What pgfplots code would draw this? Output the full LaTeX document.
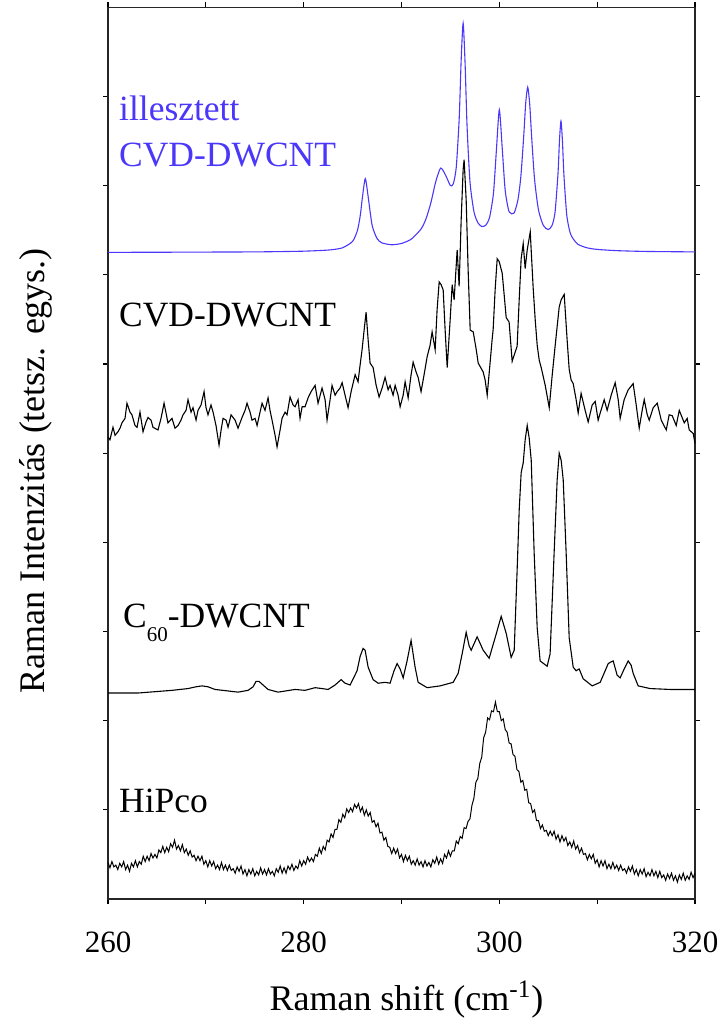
\documentclass[border=0pt]{standalone}
\usepackage{fontspec}
\setmainfont{Liberation Serif}
\usepackage{pgfplots}
\pgfplotsset{compat=1.18}
\definecolor{fitblue}{RGB}{75,55,250}
\begin{document}
\begin{tikzpicture}
\begin{axis}[
  scale only axis, width=293.5bp, height=445.85bp,
  xmin=260, xmax=320, ymin=0, ymax=10,
  xtick={260,280,300,320}, minor xtick={270,290,310},
  ytick={1,2,3,4,5,6,7,8,9}, yticklabels={},
  tick align=outside,
  major tick length=2.5bp, minor tick length=2.5bp,
  every tick/.style={black, line width=0.6bp},
  axis line style={line width=0.75bp, black!85},
  /pgf/number format/assume math mode=true,
  xticklabel style={font=\fontsize{15.5bp}{18bp}\selectfont, anchor=base, inner sep=0pt, yshift=-24bp},
  clip=false,
]
% HiPco
\addplot[black, line width=0.5bp] coordinates {
(260.0,.41)(260.2,.35)(260.4,.42)(260.6,.36)(260.8,.38)(261.0,.33)(261.2,.40)(261.4,.36)(261.6,.42)(261.8,.33)
(262.0,.38)(262.2,.31)(262.4,.40)(262.6,.36)(262.8,.43)(263.0,.36)(263.2,.42)(263.4,.39)(263.6,.48)(263.8,.42)
(264.0,.48)(264.2,.43)(264.4,.51)(264.6,.46)(264.8,.50)(265.0,.46)(265.2,.55)(265.4,.52)(265.6,.59)(265.8,.52)
(266.0,.58)(266.2,.53)(266.4,.62)(266.6,.58)(266.8,.66)(267.0,.56)(267.2,.60)(267.4,.54)(267.6,.61)(267.8,.52)
(268.0,.56)(268.2,.49)(268.4,.54)(268.6,.47)(268.8,.49)(269.0,.43)(269.2,.48)(269.4,.43)(269.6,.48)(269.8,.39)
(270.0,.43)(270.2,.36)(270.4,.43)(270.6,.37)(270.8,.42)(271.0,.34)(271.2,.38)(271.4,.33)(271.6,.41)(271.8,.33)
(272.0,.38)(272.2,.32)(272.4,.38)(272.6,.32)(272.8,.34)(273.0,.29)(273.2,.36)(273.4,.31)(273.6,.37)(273.8,.28)
(274.0,.33)(274.2,.26)(274.4,.33)(274.6,.28)(274.8,.34)(275.0,.26)(275.2,.31)(275.4,.27)(275.6,.35)(275.8,.28)
(276.0,.33)(276.2,.27)(276.4,.34)(276.6,.28)(276.8,.31)(277.0,.26)(277.2,.34)(277.4,.30)(277.6,.37)(277.8,.29)
(278.0,.35)(278.2,.29)(278.4,.37)(278.6,.33)(278.8,.39)(279.0,.32)(279.2,.37)(279.4,.34)(279.6,.43)(279.8,.37)
(280.0,.43)(280.2,.39)(280.4,.47)(280.6,.42)(280.8,.46)(281.0,.42)(281.2,.50)(281.4,.48)(281.6,.57)(281.8,.51)
(282.0,.59)(282.2,.55)(282.4,.66)(282.6,.64)(282.8,.73)(283.0,.69)(283.2,.78)(283.4,.78)(283.6,.89)(283.8,.86)
(284.0,.95)(284.2,.91)(284.4,1.01)(284.6,.97)(284.8,1.02)(285.0,.98)(285.2,1.06)(285.4,1.02)(285.6,1.07)(285.8,.98)
(286.0,1.03)(286.2,.94)(286.4,1.00)(286.6,.93)(286.8,.97)(287.0,.86)(287.2,.88)(287.4,.81)(287.6,.85)(287.8,.74)
(288.0,.75)(288.2,.66)(288.4,.69)(288.6,.59)(288.8,.58)(289.0,.51)(289.2,.57)(289.4,.51)(289.6,.56)(289.8,.46)
(290.0,.50)(290.2,.42)(290.4,.49)(290.6,.43)(290.8,.48)(291.0,.39)(291.2,.43)(291.4,.38)(291.6,.45)(291.8,.38)
(292.0,.42)(292.2,.36)(292.4,.43)(292.6,.37)(292.8,.41)(293.0,.36)(293.2,.44)(293.4,.40)(293.6,.47)(293.8,.39)
(294.0,.45)(294.2,.40)(294.4,.50)(294.6,.46)(294.8,.54)(295.0,.48)(295.2,.54)(295.4,.54)(295.6,.65)(295.8,.62)
(296.0,.70)(296.2,.68)(296.4,.80)(296.6,.79)(296.8,.87)(297.0,.90)(297.2,1.05)(297.4,1.13)(297.6,1.31)(297.8,1.35)
(298.0,1.52)(298.2,1.59)(298.4,1.81)(298.6,1.87)(298.8,2.03)(299.0,2.01)(299.2,2.11)(299.4,2.10)(299.6,2.21)(299.8,2.10)
(300.0,2.10)(300.2,2.00)(300.4,2.02)(300.6,1.90)(300.8,1.87)(301.0,1.75)(301.2,1.74)(301.4,1.62)(301.6,1.60)(301.8,1.45)
(302.0,1.43)(302.2,1.31)(302.4,1.33)(302.6,1.22)(302.8,1.23)(303.0,1.08)(303.2,1.07)(303.4,.97)(303.6,1.00)(303.8,.88)
(304.0,.88)(304.2,.79)(304.4,.83)(304.6,.76)(304.8,.77)(305.0,.71)(305.2,.76)(305.4,.71)(305.6,.76)(305.8,.67)
(306.0,.72)(306.2,.64)(306.4,.71)(306.6,.65)(306.8,.69)(307.0,.60)(307.2,.64)(307.4,.58)(307.6,.65)(307.8,.56)
(308.0,.60)(308.2,.52)(308.4,.57)(308.6,.50)(308.8,.51)(309.0,.44)(309.2,.50)(309.4,.45)(309.6,.50)(309.8,.40)
(310.0,.44)(310.2,.36)(310.4,.43)(310.6,.37)(310.8,.43)(311.0,.34)(311.2,.39)(311.4,.34)(311.6,.41)(311.8,.34)
(312.0,.38)(312.2,.32)(312.4,.38)(312.6,.32)(312.8,.34)(313.0,.29)(313.2,.36)(313.4,.31)(313.6,.37)(313.8,.28)
(314.0,.33)(314.2,.26)(314.4,.33)(314.6,.28)(314.8,.34)(315.0,.25)(315.2,.30)(315.4,.26)(315.6,.33)(315.8,.26)
(316.0,.31)(316.2,.24)(316.4,.31)(316.6,.24)(316.8,.27)(317.0,.21)(317.2,.28)(317.4,.23)(317.6,.29)(317.8,.21)
(318.0,.26)(318.2,.19)(318.4,.27)(318.6,.22)(318.8,.29)(319.0,.21)(319.2,.26)(319.4,.22)(319.6,.30)(319.8,.24)(320.0,.29)
};
% C60-DWCNT
\addplot[black, line width=0.55bp] coordinates {
(260.00,2.31)(263.07,2.31)(266.54,2.34)(268.18,2.36)(269.00,2.38)(269.61,2.39)(270.22,2.38)(270.94,2.35)(273.29,2.32)(274.32,2.34)
(274.83,2.38)(275.13,2.44)(275.44,2.44)(275.85,2.40)(276.36,2.35)(277.38,2.32)(279.12,2.35)(280.14,2.34)(281.17,2.37)(281.88,2.36)
(282.50,2.35)(283.21,2.40)(283.83,2.46)(284.23,2.42)(284.75,2.40)(285.15,2.49)(285.46,2.56)(285.77,2.72)(286.07,2.81)(286.28,2.79)
(286.59,2.60)(287.10,2.46)(287.61,2.42)(288.32,2.43)(288.83,2.42)(289.24,2.56)(289.55,2.64)(289.86,2.58)(290.17,2.48)(290.57,2.67)
(290.98,2.90)(291.39,2.60)(291.70,2.43)(292.62,2.37)(293.95,2.39)(295.28,2.43)(295.79,2.53)(296.20,2.75)(296.61,2.99)(296.91,2.84)
(297.12,2.79)(297.73,2.94)(298.35,2.79)(298.96,2.70)(299.57,2.93)(300.19,3.17)(300.70,2.98)(301.21,2.71)(301.52,2.79)(301.82,3.69)
(302.03,4.36)(302.23,4.78)(302.44,4.89)(302.64,5.15)(302.85,5.31)(303.05,5.17)(303.26,4.92)(303.56,3.88)(303.87,3.04)(304.17,2.67)
(304.89,2.61)(305.19,2.75)(305.60,3.88)(305.91,4.70)(306.12,5.00)(306.32,4.92)(306.53,4.70)(306.83,3.88)(307.14,2.93)(307.55,2.60)
(307.85,2.56)(308.16,2.58)(308.57,2.47)(309.49,2.39)(310.31,2.43)(311.13,2.64)(311.43,2.66)(311.64,2.67)(312.04,2.51)(312.35,2.48)
(312.76,2.58)(313.17,2.67)(313.48,2.62)(313.68,2.53)(314.19,2.39)(315.42,2.36)(317.46,2.35)(319.82,2.35)(320.00,2.35)
};
% CVD-DWCNT
\addplot[black, line width=0.55bp] coordinates {
(260.00,5.18)(260.20,5.15)(260.51,5.29)(260.72,5.20)(261.02,5.24)(261.23,5.28)(261.43,5.34)(261.74,5.39)(261.94,5.56)(262.25,5.46)
(262.45,5.43)(262.76,5.31)(262.97,5.29)(263.27,5.46)(263.58,5.24)(263.89,5.35)(264.09,5.40)(264.40,5.37)(264.60,5.29)(265.11,5.26)
(265.42,5.39)(265.73,5.56)(266.13,5.34)(266.54,5.39)(266.85,5.28)(267.16,5.31)(267.46,5.37)(267.67,5.43)(267.98,5.48)(268.18,5.60)
(268.49,5.46)(268.69,5.51)(269.00,5.37)(269.20,5.48)(269.51,5.54)(269.82,5.69)(270.02,5.51)(270.22,5.43)(270.53,5.54)(270.74,5.46)
(271.04,5.31)(271.35,5.09)(271.56,5.26)(271.76,5.39)(272.07,5.37)(272.27,5.29)(272.58,5.43)(272.99,5.37)(273.29,5.28)(273.70,5.40)
(274.01,5.48)(274.21,5.56)(274.52,5.46)(274.72,5.37)(275.03,5.39)(275.24,5.31)(275.54,5.46)(275.75,5.56)(276.05,5.48)(276.36,5.62)
(276.56,5.48)(276.77,5.37)(277.08,5.20)(277.28,5.07)(277.59,5.26)(277.79,5.39)(278.10,5.46)(278.30,5.43)(278.61,5.63)(278.92,5.54)
(279.12,5.52)(279.43,5.60)(279.63,5.39)(279.84,5.52)(280.14,5.52)(280.45,5.62)(280.76,5.69)(281.17,5.76)(281.47,5.56)(281.88,5.73)
(282.19,5.60)(282.39,5.37)(282.70,5.60)(282.90,5.76)(283.21,5.65)(283.42,5.69)(283.72,5.73)(283.93,5.79)(284.23,5.65)(284.54,5.51)
(284.85,5.69)(285.26,5.88)(285.56,5.80)(285.77,5.99)(285.97,6.16)(286.18,6.38)(286.38,6.58)(286.59,6.27)(286.79,6.01)(287.10,5.96)
(287.41,5.76)(287.71,5.63)(288.02,5.73)(288.32,5.85)(288.63,5.71)(288.83,5.76)(289.14,5.65)(289.35,5.76)(289.65,5.65)(289.86,5.52)
(290.17,5.65)(290.37,5.80)(290.68,5.62)(290.98,5.88)(291.19,6.02)(291.49,5.91)(291.70,5.85)(292.00,5.69)(292.31,5.88)(292.62,6.08)
(292.92,6.21)(293.13,6.36)(293.44,6.16)(293.64,6.61)(293.85,6.92)(294.05,6.89)(294.26,6.83)(294.46,6.38)(294.67,5.96)(294.97,6.49)
(295.18,6.89)(295.38,6.72)(295.69,7.28)(295.89,6.87)(296.10,7.62)(296.30,8.18)(296.40,8.29)(296.61,7.84)(296.81,7.06)(297.02,6.38)
(297.33,6.36)(297.64,6.16)(297.84,6.01)(298.35,5.91)(298.55,5.82)(298.76,5.65)(299.06,6.02)(299.26,6.27)(299.37,6.39)(299.57,6.83)
(299.78,7.18)(299.98,7.15)(300.29,7.02)(300.49,6.78)(300.70,6.52)(301.00,6.47)(301.31,6.03)(301.52,6.10)(301.82,6.20)(302.03,6.72)
(302.23,7.18)(302.44,7.35)(302.64,7.07)(302.85,7.28)(303.16,7.48)(303.46,6.85)(303.67,6.49)(303.87,6.21)(304.08,6.04)(304.28,5.96)
(304.69,5.76)(305.10,5.51)(305.40,5.87)(305.71,6.21)(306.12,6.64)(306.32,6.72)(306.63,6.78)(306.93,6.27)(307.14,5.94)(307.34,5.82)
(307.55,5.78)(307.85,5.60)(308.06,5.45)(308.36,5.67)(308.77,5.48)(309.08,5.35)(309.49,5.54)(309.80,5.58)(310.10,5.37)(310.31,5.45)
(310.72,5.60)(311.02,5.48)(311.43,5.65)(311.84,5.79)(312.15,5.60)(312.35,5.39)(312.76,5.60)(313.17,5.71)(313.68,5.78)(313.99,5.54)
(314.30,5.28)(314.60,5.48)(314.81,5.60)(315.12,5.43)(315.32,5.37)(315.73,5.51)(316.14,5.56)(316.55,5.37)(317.06,5.26)(317.36,5.43)
(317.67,5.42)(318.08,5.31)(318.39,5.48)(318.90,5.34)(319.20,5.39)(319.41,5.26)(319.82,5.22)(320.00,5.11)
};
% fitted CVD-DWCNT
\addplot[fitblue, line width=0.55bp, smooth, tension=0.4] coordinates {
(260,7.252)(265,7.253)(270,7.255)(275,7.257)(278,7.261)(280,7.265)(282,7.274)(283,7.283)(284,7.304)(285,7.375)
(285.5,7.499)(285.8,7.676)(286.0,7.865)(286.3,8.079)(286.6,7.869)(287.0,7.554)(287.5,7.407)(288.0,7.358)(289.0,7.337)(290.0,7.352)
(291.0,7.400)(292.0,7.514)(292.5,7.627)(293.0,7.807)(293.5,8.045)(294.0,8.197)(294.5,8.119)(295.0,8.000)(295.3,8.022)(295.6,8.209)
(295.9,8.759)(296.1,9.411)(296.3,9.822)(296.5,9.368)(296.7,8.669)(297.0,8.043)(297.4,7.710)(297.8,7.585)(298.2,7.542)(298.6,7.555)
(299.0,7.643)(299.4,7.914)(299.7,8.398)(300.0,8.851)(300.3,8.412)(300.6,7.945)(301.0,7.707)(301.5,7.692)(301.9,7.841)(302.2,8.103)
(302.5,8.568)(302.7,8.932)(302.9,9.103)(303.1,8.923)(303.3,8.551)(303.6,8.071)(304.0,7.728)(304.5,7.553)(305.0,7.507)(305.4,7.556)
(305.7,7.707)(306.0,8.143)(306.15,8.512)(306.3,8.724)(306.45,8.502)(306.6,8.122)(306.9,7.662)(307.3,7.452)(308,7.345)(309,7.302)
(310,7.285)(312,7.271)(315,7.262)(320,7.257)
};
\node[anchor=base west, inner sep=0pt, text=fitblue, font=\fontsize{17.75bp}{20bp}\selectfont] at (axis cs:261.1,8.73) {illesztett};
\node[anchor=base west, inner sep=0pt, text=fitblue, font=\fontsize{17.75bp}{20bp}\selectfont] at (axis cs:261.1,8.22) {CVD-DWCNT};
\node[anchor=base west, inner sep=0pt, font=\fontsize{17.75bp}{20bp}\selectfont] at (axis cs:261.1,6.42) {CVD-DWCNT};
\node[anchor=base west, inner sep=0pt, font=\fontsize{17.75bp}{20bp}\selectfont] at (axis cs:261.5,3.04) {C\raisebox{-7bp}{\fontsize{10.5bp}{12bp}\selectfont 60}-DWCNT};
\node[anchor=base west, inner sep=0pt, font=\fontsize{17.75bp}{20bp}\selectfont] at (axis cs:261.1,0.97) {HiPco};
\node[rotate=90, anchor=base, inner sep=0pt, font=\fontsize{18bp}{20bp}\selectfont] at (rel axis cs:-0.109,0.48) {Raman Intenzitás (tetsz. egys.)};
\node[anchor=base, inner sep=0pt, font=\fontsize{18bp}{20bp}\selectfont] at (rel axis cs:0.5085,-0.1245) {Raman shift (cm\textsuperscript{-1})};
\path (rel axis cs:-0.18399,-0.13457) rectangle (rel axis cs:1.04429,1.00819);
\end{axis}
\end{tikzpicture}
\end{document}
